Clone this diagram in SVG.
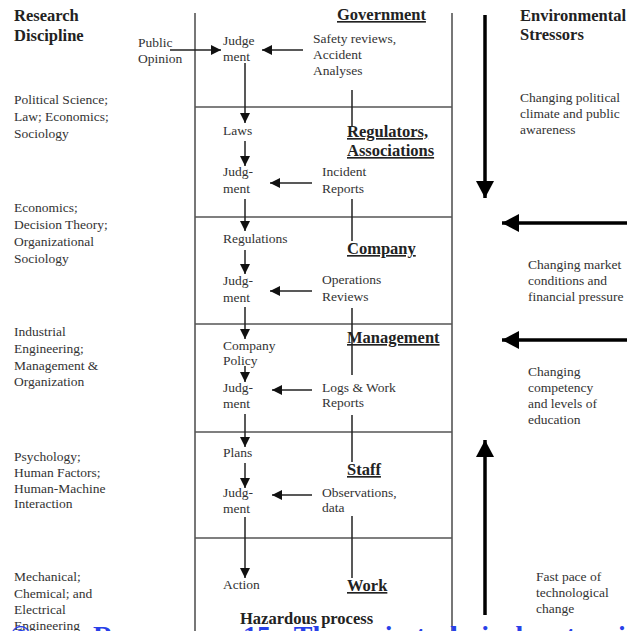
<svg xmlns="http://www.w3.org/2000/svg" width="640" height="631" viewBox="0 0 640 631">
<style>
text{font-family:"Liberation Serif","Times New Roman",serif;fill:#333;font-size:13.5px}
.h{font-weight:bold;font-size:16.5px;fill:#222}
.u{text-decoration:underline}
.box{stroke:#555;stroke-width:1.6;fill:none}
.ln{stroke:#222;stroke-width:1.5;fill:none}
.sa{stroke:#222;stroke-width:1.5;fill:none;marker-end:url(#sh)}
.ba{stroke:#000;stroke-width:3.5;fill:none;marker-end:url(#bh)}
.cap{font-family:"Liberation Serif","Times New Roman",serif;font-weight:bold;font-size:28px;fill:#2840e8}
</style>
<defs>
<marker id="sh" markerUnits="userSpaceOnUse" markerWidth="10" markerHeight="10" refX="10" refY="5" orient="auto"><path d="M0,0 L10,5 L0,10 z" fill="#111"/></marker>
<marker id="bh" markerUnits="userSpaceOnUse" markerWidth="18" markerHeight="18" refX="17" refY="9" orient="auto"><path d="M0,0 L17,9 L0,18 z" fill="#000"/></marker>
</defs>
<rect width="640" height="631" fill="#fff"/>
<g id="frame">
<line class="box" x1="195" y1="13" x2="195" y2="631"/>
<line class="box" x1="452" y1="13" x2="452" y2="631"/>
<line class="box" x1="195" y1="107" x2="452" y2="107"/>
<line class="box" x1="195" y1="217" x2="452" y2="217"/>
<line class="box" x1="195" y1="324" x2="452" y2="324"/>
<line class="box" x1="195" y1="432" x2="452" y2="432"/>
<line class="box" x1="195" y1="538" x2="452" y2="538"/>
</g>
<g id="connectors">
<line class="sa" x1="170" y1="50" x2="221" y2="50"/>
<line class="sa" x1="303" y1="50" x2="262" y2="50"/>
<line class="sa" x1="245" y1="63" x2="245" y2="123"/>
<line class="sa" x1="245" y1="141" x2="245" y2="166"/>
<line class="sa" x1="312" y1="183" x2="270" y2="183"/>
<line class="sa" x1="245" y1="199" x2="245" y2="231"/>
<line class="sa" x1="245" y1="250" x2="245" y2="274"/>
<line class="sa" x1="312" y1="291" x2="270" y2="291"/>
<line class="sa" x1="245" y1="307" x2="245" y2="339"/>
<line class="sa" x1="245" y1="366" x2="245" y2="382"/>
<line class="sa" x1="312" y1="390" x2="272" y2="390"/>
<line class="sa" x1="245" y1="414" x2="245" y2="447"/>
<line class="sa" x1="245" y1="463" x2="245" y2="488"/>
<line class="sa" x1="312" y1="495" x2="272" y2="495"/>
<line class="sa" x1="245" y1="517" x2="245" y2="578"/>
<line class="ln" x1="352" y1="90" x2="352" y2="126"/>
<line class="ln" x1="352" y1="199" x2="352" y2="241"/>
<line class="ln" x1="352" y1="308" x2="352" y2="375"/>
<line class="ln" x1="352" y1="415" x2="352" y2="462"/>
<line class="ln" x1="352" y1="516" x2="352" y2="578"/>
<line class="ba" x1="485" y1="15" x2="485" y2="198"/>
<line class="ba" x1="627" y1="223" x2="502" y2="223"/>
<line class="ba" x1="627" y1="340" x2="502" y2="340"/>
<line class="ba" x1="485" y1="615" x2="485" y2="440"/>
</g>
<g id="headers">
<text class="h" x="14" y="21">Research</text>
<text class="h" x="14" y="41">Discipline</text>
<text class="h" x="520" y="21">Environmental</text>
<text class="h" x="520" y="40">Stressors</text>
</g>
<g id="disciplines">
<text x="14" y="104">Political Science;</text>
<text x="14" y="121">Law; Economics;</text>
<text x="14" y="138">Sociology</text>
<text x="14" y="212">Economics;</text>
<text x="14" y="229">Decision Theory;</text>
<text x="14" y="246">Organizational</text>
<text x="14" y="263">Sociology</text>
<text x="14" y="336">Industrial</text>
<text x="14" y="353">Engineering;</text>
<text x="14" y="370">Management &amp;</text>
<text x="14" y="386">Organization</text>
<text x="14" y="461">Psychology;</text>
<text x="14" y="477">Human Factors;</text>
<text x="14" y="493">Human-Machine</text>
<text x="14" y="508">Interaction</text>
<text x="14" y="581">Mechanical;</text>
<text x="14" y="598">Chemical; and</text>
<text x="14" y="614">Electrical</text>
<text x="14" y="630">Engineering</text>
</g>
<g id="stressors">
<text x="520" y="102">Changing political</text>
<text x="520" y="118">climate and public</text>
<text x="520" y="134">awareness</text>
<text x="528" y="269">Changing market</text>
<text x="528" y="285">conditions and</text>
<text x="528" y="301">financial pressure</text>
<text x="528" y="376">Changing</text>
<text x="528" y="392">competency</text>
<text x="528" y="408">and levels of</text>
<text x="528" y="424">education</text>
<text x="536" y="581">Fast pace of</text>
<text x="536" y="597">technological</text>
<text x="536" y="613">change</text>
</g>
<g id="government">
<text class="h u" x="337" y="20">Government</text>
<text x="138" y="47">Public</text>
<text x="138" y="63">Opinion</text>
<text x="223" y="45">Judge</text>
<text x="223" y="61">ment</text>
<text x="313" y="43">Safety reviews,</text>
<text x="313" y="59">Accident</text>
<text x="313" y="75">Analyses</text>
</g>
<g id="regulators">
<text class="h u" x="347" y="137">Regulators,</text>
<text class="h u" x="347" y="156">Associations</text>
<text x="223" y="135">Laws</text>
<text x="223" y="176">Judg-</text>
<text x="223" y="193">ment</text>
<text x="322" y="176">Incident</text>
<text x="322" y="193">Reports</text>
</g>
<g id="company">
<text class="h u" x="347" y="254">Company</text>
<text x="223" y="243">Regulations</text>
<text x="223" y="285">Judg-</text>
<text x="223" y="302">ment</text>
<text x="322" y="284">Operations</text>
<text x="322" y="301">Reviews</text>
</g>
<g id="management">
<text class="h u" x="347" y="343">Management</text>
<text x="223" y="350">Company</text>
<text x="223" y="365">Policy</text>
<text x="223" y="392">Judg-</text>
<text x="223" y="408">ment</text>
<text x="322" y="392">Logs &amp; Work</text>
<text x="322" y="407">Reports</text>
</g>
<g id="staff">
<text class="h u" x="347" y="475">Staff</text>
<text x="223" y="457">Plans</text>
<text x="223" y="497">Judg-</text>
<text x="223" y="513">ment</text>
<text x="322" y="497">Observations,</text>
<text x="322" y="512">data</text>
</g>
<g id="work">
<text class="h u" x="347" y="591">Work</text>
<text x="223" y="589">Action</text>
<text class="h" x="240" y="624">Hazardous process</text>
</g>
<g id="caption">
<text class="cap" x="10" y="645">©</text>
<text class="cap" x="93" y="645">Rasmussen</text>
<text class="cap" x="243" y="645">15 - The socio-technical system involved</text>
</g>
</svg>
